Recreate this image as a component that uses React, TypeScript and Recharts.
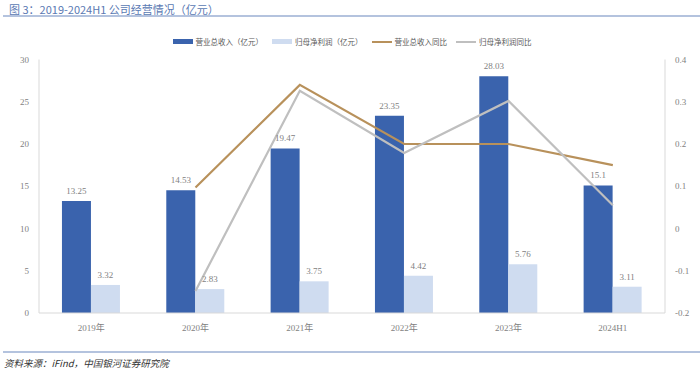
import React from "react";
import {
  ComposedChart,
  Bar,
  Line,
  XAxis,
  YAxis,
  LabelList,
} from "recharts";

const years = ["2019年", "2020年", "2021年", "2022年", "2023年", "2024H1"];
const revenue = [13.25, 14.53, 19.47, 23.35, 28.03, 15.1];
const netProfit = [3.32, 2.83, 3.75, 4.42, 5.76, 3.11];
const revenueYoy = [null, 0.097, 0.34, 0.2, 0.2, 0.15];
const profitYoy = [null, -0.148, 0.326, 0.179, 0.302, 0.055];

const leftTicks = [0, 5, 10, 15, 20, 25, 30];
const rightTicks = [-0.2, -0.1, 0, 0.1, 0.2, 0.3, 0.4];

const DARK = "#3a63ad";
const LIGHT = "#cfdcf0";
const GOLD = "#b8915b";
const GRAY = "#bfbfbf";
const FONT = '"Liberation Serif", "Noto Sans CJK SC", serif';

const data = years.map((y, i) => ({
  year: y,
  revenue: revenue[i],
  netProfit: netProfit[i],
  revenueYoy: revenueYoy[i],
  profitYoy: profitYoy[i],
}));

const legendItems = [
  { name: "营业总收入（亿元）", color: DARK, type: "bar" },
  { name: "归母净利润（亿元）", color: LIGHT, type: "bar" },
  { name: "营业总收入同比", color: GOLD, type: "line" },
  { name: "归母净利润同比", color: GRAY, type: "line" },
];

const tickStyle = { fontSize: 9, fill: "#7f7f7f", fontFamily: FONT };

export default function App() {
  return (
    <div
      style={{
        position: "fixed",
        left: 0,
        top: 0,
        width: 700,
        height: 372,
        background: "#fff",
        fontFamily: FONT,
      }}
    >
      <div
        style={{
          position: "absolute",
          left: 9,
          top: 1,
          fontSize: 11,
          color: "#5a79b3",
          fontFamily: '"Noto Sans CJK SC", sans-serif',
          whiteSpace: "nowrap",
        }}
      >
        图 3：2019-2024H1 公司经营情况（亿元）
      </div>
      <div
        style={{
          position: "absolute",
          left: 3,
          top: 15,
          width: 697,
          height: 2,
          background: "#b4c3de",
        }}
      />

      <div
        style={{
          position: "absolute",
          left: 0,
          top: 36,
          width: 704,
          display: "flex",
          justifyContent: "center",
          gap: 9,
          fontSize: 7.5,
          color: "#595959",
          fontFamily: '"Noto Sans CJK SC", sans-serif',
        }}
      >
        {legendItems.map((it) => (
          <div key={it.name} style={{ display: "flex", alignItems: "center", gap: 3 }}>
            <span
              style={{
                display: "inline-block",
                width: 20,
                height: it.type === "bar" ? 5 : 2,
                background: it.color,
              }}
            />
            <span>{it.name}</span>
          </div>
        ))}
      </div>

      <div style={{ position: "absolute", left: 0, top: 0 }}>
        <ComposedChart
          width={700}
          height={372}
          data={data}
          margin={{ top: 59.5, right: 0, bottom: 29, left: 0 }}
          barGap={0}
          barCategoryGap="22%"
        >
          <XAxis
            dataKey="year"
            tick={tickStyle}
            tickLine={false}
            axisLine={{ stroke: "#d9d9d9" }}
            height={30}
            tickMargin={6}
          />
          <YAxis
            yAxisId="left"
            domain={[0, 30]}
            ticks={leftTicks}
            tick={tickStyle}
            tickLine={false}
            axisLine={{ stroke: "#d9d9d9" }}
            width={39}
            tickMargin={4}
          />
          <YAxis
            yAxisId="right"
            orientation="right"
            domain={[-0.2, 0.4]}
            ticks={rightTicks}
            tick={{ ...tickStyle, textAnchor: "start" }}
            tickLine={false}
            axisLine={{ stroke: "#d9d9d9" }}
            width={35}
            tickMargin={4}
          />
          <Bar yAxisId="left" dataKey="revenue" fill={DARK} isAnimationActive={false}>
            <LabelList
              dataKey="revenue"
              position="top"
              offset={7}
              style={{ fontSize: 9, fill: "#7f7f7f", fontFamily: FONT }}
            />
          </Bar>
          <Bar yAxisId="left" dataKey="netProfit" fill={LIGHT} isAnimationActive={false}>
            <LabelList
              dataKey="netProfit"
              position="top"
              offset={7}
              style={{ fontSize: 9, fill: "#7f7f7f", fontFamily: FONT }}
            />
          </Bar>
          <Line
            yAxisId="right"
            type="linear"
            dataKey="revenueYoy"
            stroke={GOLD}
            strokeWidth={2.2}
            dot={false}
            isAnimationActive={false}
          />
          <Line
            yAxisId="right"
            type="linear"
            dataKey="profitYoy"
            stroke={GRAY}
            strokeWidth={2.2}
            dot={false}
            isAnimationActive={false}
          />
        </ComposedChart>
      </div>

      <div
        style={{
          position: "absolute",
          left: 3,
          top: 351,
          width: 697,
          height: 2,
          background: "#b4c3de",
        }}
      />
      <div
        style={{
          position: "absolute",
          left: 4,
          top: 356,
          fontSize: 9.5,
          fontStyle: "italic",
          color: "#333",
          fontFamily: '"Noto Sans CJK SC", sans-serif',
          whiteSpace: "nowrap",
        }}
      >
        资料来源：iFind，中国银河证券研究院
      </div>
    </div>
  );
}
